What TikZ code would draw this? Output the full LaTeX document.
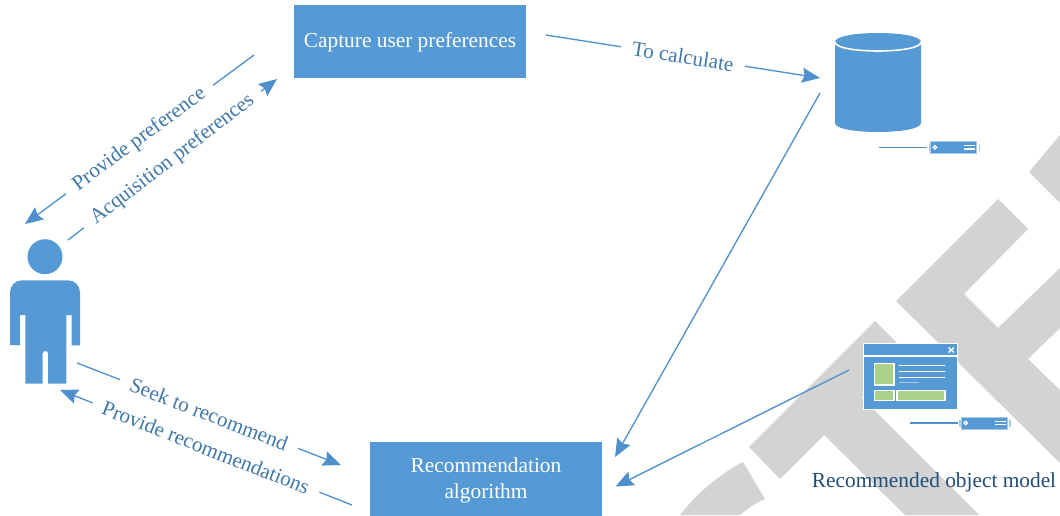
\documentclass[tikz,border=0pt]{standalone}
\usepackage{fontspec}
\setmainfont{Liberation Serif}
\usetikzlibrary{arrows.meta}

\definecolor{boxblue}{HTML}{5599D5}
\definecolor{lineblue}{HTML}{4F90CC}
\definecolor{labelblue}{HTML}{3F78A9}
\definecolor{modelblue}{HTML}{1F4E79}
\definecolor{markgray}{HTML}{D3D3D3}
\definecolor{leafgreen}{HTML}{AED18A}
\definecolor{paleblue}{HTML}{A9CBEA}

\tikzset{
    stagebox/.style={fill=boxblue,text=white,align=center,inner sep=0pt,
        minimum width=4.64cm,minimum height=1.46cm,
        font=\fontsize{12.15}{14.8}\selectfont},
    flow/.style={draw=lineblue,line width=0.75pt,->},
    flowlabel/.style={sloped,fill=white,text=labelblue,inner ysep=0.5pt,inner xsep=6.5pt,
        font=\fontsize{12}{14}\selectfont},
    leaf/.style={fill=leafgreen,draw=white,line width=0.8pt},
    whiteline/.style={draw=white,line width=0.8pt},
}

\newcommand{\devicebar}[3]{%
    \begin{scope}[shift={(#2,#3)}]
        \coordinate (#1-tail) at (0,0);
        \node [fill=boxblue,draw=paleblue,line width=0.4pt,inner sep=0pt,
            minimum width=0.92cm,minimum height=0.24cm] (#1) at (74.5,0) {};
        \draw [lineblue,line width=0.9pt] (#1-tail) -- (48,0);
        \draw [paleblue,line width=0.7pt] (50,-3.5) -- (50,3.5);
        \draw [paleblue,line width=0.7pt] (100,-3.5) -- (100,3.5);
        \node [circle,fill=boxblue,draw=white,line width=0.7pt,inner sep=0pt,minimum size=0.07cm] (#1-dot) at (55.7,0) {};
        \draw [white,line width=0.7pt] (84.7,-1.7) -- (96,-1.7);
        \draw [white,line width=0.7pt] (84.7,1.7) -- (96,1.7);
    \end{scope}
}

\begin{document}
\begin{tikzpicture}[x=0.02cm,y=-0.02cm,>={Stealth[length=3.6mm,width=3mm,inset=0.5mm]}]
    \useasboundingbox (0,0) rectangle (1060,515);

    \fill [markgray] (1060,135) -- (1029,172) -- (1060,203) -- cycle;
    \fill [markgray] (998,199) -- (1028,229) -- (964,294) -- (998,328) -- (1060,268)
        -- (1060,328) -- (1028,359) -- (1060,390) -- (1060,463) -- (896,301) -- cycle;
    \fill [markgray] (875,321) -- (906,352) -- (861.5,397.5) -- (979,515) -- (905,515)
        -- (824,435) -- (780,479) -- (749,447) -- cycle;
    \fill [markgray] (680,515) .. controls (698,492) and (720,474) .. (743,462)
        -- (765,499) .. controls (755,503) and (747,509) .. (740,515) -- cycle;

    \node [stagebox,text height=9pt] (capture) at (410,41.5) {Capture user preferences};

    \node [stagebox,minimum height=1.54cm] (recommendation) at (486,480.5) {Recommendation\\algorithm};

    \node [circle,fill=boxblue,inner sep=0pt,minimum size=0.7cm] (head) at (45,256.7) {};
    \fill [boxblue] (10,345) [rounded corners=0.24cm] -- (10,280.3) -- (80,280.3) [sharp corners] -- (80,345.3)
        -- (71.7,345.3) -- (71.7,315) -- (66.3,315) -- (66.3,383.7) -- (48,383.7)
        [rounded corners=0.05cm] -- (48,351) -- (42.7,351) [sharp corners] -- (42.7,383.7)
        -- (25.3,383.7) -- (25.3,315) -- (20,315) -- (20,345.3) -- cycle;

    \fill [boxblue] (835,42) -- (835,123) .. controls (835,135) and (921,135) .. (921,123)
        -- (921,42) .. controls (921,30) and (835,30) .. (835,42) -- cycle;
    \draw [white,line width=0.9pt] (835,42) .. controls (835,54) and (921,54) .. (921,42);
    \coordinate (database) at (878,80);

    \devicebar{databar}{879.3}{147.3}

    \node [fill=boxblue,draw=white,line width=0.8pt,inner sep=0pt,
        minimum width=1.88cm,minimum height=1.31cm] (window) at (910.3,376.5) {};
    \draw [whiteline] (863.5,356) -- (957,356);
    \draw [white,line width=0.8pt] (948.5,347.5) -- (954,352.5);
    \draw [white,line width=0.8pt] (948.5,352.5) -- (954,347.5);
    \draw [leaf] (874.3,363.3) rectangle (894,385);
    \draw [leaf] (874.3,390.3) rectangle (894,400.7);
    \draw [leaf] (897,390.3) rectangle (945,400.7);
    \draw [whiteline] (899.3,365.7) -- (945.3,365.7);
    \draw [whiteline] (899.3,371.7) -- (945.3,371.7);
    \draw [whiteline] (899.3,377.3) -- (945.3,377.3);
    \draw [paleblue,line width=0.8pt] (899.3,382.7) -- (919.3,382.7);

    \devicebar{windowbar}{910}{423}

    \node [text=modelblue,inner sep=0pt,font=\fontsize{12.15}{14.8}\selectfont] (model) at (934,482) {Recommended object model};

    \coordinate (capture-to) at (546,35);
    \coordinate (store-in) at (820,78);
    \coordinate (store-out) at (820,93);
    \coordinate (algo-top) at (615,457);
    \coordinate (window-out) at (849,370);
    \coordinate (algo-mid) at (615.5,486.5);
    \coordinate (capture-a) at (254,55);
    \coordinate (person-a) at (25,224);
    \coordinate (person-b) at (68,240);
    \coordinate (capture-b) at (277,79);
    \coordinate (person-c) at (77,363);
    \coordinate (algo-c) at (341,465);
    \coordinate (algo-d) at (352,505);
    \coordinate (person-d) at (60,390);

    \draw [flow] (capture-to) -- node [flowlabel] {To calculate} (store-in);
    \draw [flow] (store-out) -- (algo-top);
    \draw [flow] (window-out) -- (algo-mid);
    \draw [flow] (capture-a) -- node [flowlabel] {Provide preference} (person-a);
    \draw [flow] (person-b) -- node [flowlabel] {Acquisition preferences} (capture-b);
    \draw [flow] (person-c) -- node [flowlabel] {Seek to recommend} (algo-c);
    \draw [flow] (algo-d) -- node [flowlabel] {Provide recommendations} (person-d);
\end{tikzpicture}
\end{document}
